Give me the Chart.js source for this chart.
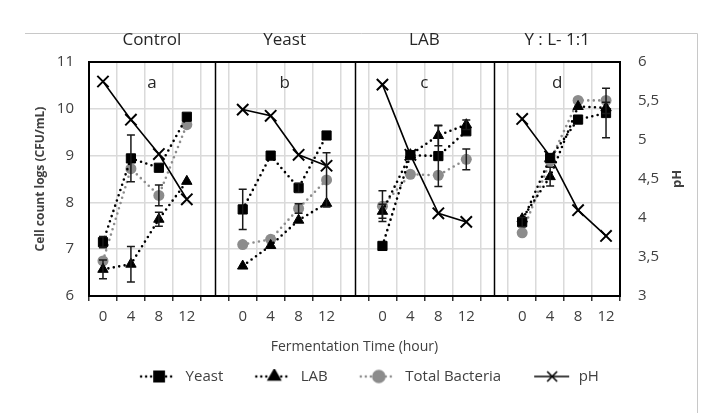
<!DOCTYPE html>
<html>
<head>
<meta charset="utf-8">
<script src="https://cdn.jsdelivr.net/npm/chart.js@4.4.1/dist/chart.umd.min.js"></script>
<style>
    html, body { margin: 0; padding: 0; background: #fff; }
    canvas { display: block; }
</style>
</head>
<body>
<canvas id="fermentChart" width="721" height="413" style="width:721px;height:413px"></canvas>
<script>
// Data
const hours = ["0", "4", "8", "12"];
const treatments = ["Control", "Yeast", "LAB", "Y : L- 1:1"];
const panelLetters = ["a", "b", "c", "d"];

// one row per treatment, values at 0, 4, 8, 12 h
const yeast = [
    [7.15, 8.94, 8.74, 9.83],
    [7.85, 9.0, 8.31, 9.43],
    [7.07, 9.01, 8.99, 9.52],
    [7.58, 8.95, 9.77, 9.91],
];
const lab = [
    [6.57, 6.68, 7.64, 8.45],
    [6.64, 7.08, 7.62, 7.98],
    [7.81, 9.02, 9.43, 9.66],
    [7.65, 8.55, 10.05, 10.02],
];
const totalBacteria = [
    [6.75, 8.72, 8.15, 9.66],
    [7.1, 7.21, 7.87, 8.48],
    [7.92, 8.6, 8.58, 8.92],
    [7.35, 8.88, 10.18, 10.18],
];
const ph = [
    [5.75, 5.26, 4.82, 4.24],
    [5.39, 5.31, 4.81, 4.67],
    [5.71, 4.81, 4.06, 3.95],
    [5.27, 4.79, 4.1, 3.77],
];

// error bars (± value), 0 = none visible
const yeastErr = [
    [0.12, 0.5, 0, 0],
    [0.43, 0, 0.1, 0],
    [0, 0, 0.65, 0],
    [0.1, 0, 0, 0.53],
];
const labErr = [
    [0.2, 0.38, 0.15, 0],
    [0, 0, 0, 0],
    [0.15, 0, 0.22, 0.1],
    [0, 0.2, 0, 0.12],
];
const totalBacteriaErr = [
    [0, 0, 0.22, 0],
    [0, 0, 0.1, 0.58],
    [0.33, 0, 0, 0.22],
    [0, 0, 0, 0],
];

// panels sit side by side on one category axis with an empty slot between them
const withGaps = (groups, gap) => groups.flatMap((g, i) => (i === 0 ? g : [gap, ...g]));
const labels = withGaps(treatments.map(() => hours), "");

const FONT = "'Open Sans', 'Noto Sans', sans-serif";
const TEXT = "#404040";
const GRID = "#dadada";

// legend swatch: dotted (or solid) line with the marker in the middle
function legendSwatch(pointStyle, color, radius, dotted) {
    const c = document.createElement("canvas");
    c.width = 56;
    c.height = 16;
    const g = c.getContext("2d");
    g.strokeStyle = color;
    g.lineWidth = dotted ? 2.6 : 1.6;
    g.lineCap = dotted ? "round" : "butt";
    g.setLineDash(dotted ? [0, 5] : []);
    g.beginPath();
    g.moveTo(19, 8);
    g.lineTo(dotted ? 50 : 54, 8);
    g.stroke();
    g.setLineDash([]);
    Chart.helpers.drawPoint(g, {
        pointStyle: pointStyle,
        radius: radius,
        borderWidth: pointStyle === "crossRot" ? 2 : 1,
        rotation: 0,
    }, 37, 8);
    if (pointStyle !== "crossRot") {
        g.fillStyle = color;
        g.fill();
    }
    return c;
}

const errorBars = {
    id: "errorBars",
    afterDatasetsDraw(chart) {
        const ctx = chart.ctx;
        ctx.save();
        ctx.strokeStyle = "#1a1a1a";
        ctx.lineWidth = 1.5;
        chart.data.datasets.forEach((ds, i) => {
            if (!ds.errors) return;
            const meta = chart.getDatasetMeta(i);
            const yScale = chart.scales[ds.yAxisID];
            ds.data.forEach((v, j) => {
                const e = ds.errors[j];
                if (v === null || !e) return;
                const x = meta.data[j].x;
                const top = yScale.getPixelForValue(v + e);
                const bottom = yScale.getPixelForValue(v - e);
                ctx.beginPath();
                ctx.moveTo(x, top);
                ctx.lineTo(x, bottom);
                ctx.moveTo(x - 4, top);
                ctx.lineTo(x + 4, top);
                ctx.moveTo(x - 4, bottom);
                ctx.lineTo(x + 4, bottom);
                ctx.stroke();
            });
        });
        ctx.restore();
    },
};

const panelDecor = {
    id: "panelDecor",
    beforeDraw(chart) {
        const ctx = chart.ctx;
        ctx.save();
        ctx.strokeStyle = "#c8c8c8";
        ctx.lineWidth = 1;
        ctx.beginPath();
        ctx.moveTo(25, 33.5);
        ctx.lineTo(697.5, 33.5);
        ctx.lineTo(697.5, 413);
        ctx.stroke();
        ctx.restore();
    },
    beforeDatasetsDraw(chart) {
        const { ctx, chartArea } = chart;
        const xs = chart.scales.x;
        ctx.save();
        ctx.strokeStyle = "#000";
        ctx.lineWidth = 1.5;
        [4, 9, 14].forEach((idx) => {
            const x = Math.round(xs.getPixelForValue(idx)) + 0.5;
            ctx.beginPath();
            ctx.moveTo(x, chartArea.top);
            ctx.lineTo(x, chartArea.bottom);
            ctx.stroke();
        });
        ctx.lineWidth = 2;
        ctx.strokeRect(chartArea.left, chartArea.top, chartArea.right - chartArea.left, chartArea.bottom - chartArea.top);
        ctx.restore();
    },
    afterDraw(chart) {
        const { ctx, chartArea } = chart;
        const xs = chart.scales.x;
        ctx.save();
        ctx.textAlign = "center";
        ctx.textBaseline = "middle";
        treatments.forEach((name, k) => {
            const left = k === 0 ? chartArea.left : xs.getPixelForValue(5 * k - 1);
            const right = k === treatments.length - 1 ? chartArea.right : xs.getPixelForValue(5 * k + 4);
            const cx = (left + right) / 2;
            ctx.fillStyle = "#262626";
            ctx.font = "17px " + FONT;
            ctx.fillText(name, cx, 40);
            ctx.fillText(panelLetters[k], cx, 83);
        });
        // secondary axis title, reading bottom to top
        ctx.translate(677, (chartArea.top + chartArea.bottom) / 2);
        ctx.rotate(-Math.PI / 2);
        ctx.font = "bold 13px " + FONT;
        ctx.fillStyle = TEXT;
        ctx.fillText("pH", 0, 0);
        ctx.restore();
    },
};

const dottedLine = {
    borderWidth: 2.6,
    borderDash: [0, 5.5],
    borderCapStyle: "round",
    tension: 0,
    spanGaps: false,
    yAxisID: "y",
};

const ctxCanvas = document.getElementById("fermentChart").getContext("2d");
const fermentChart = new Chart(ctxCanvas, {
    type: "line",
    data: {
        labels: labels,
        datasets: [
            {
                ...dottedLine,
                label: "Yeast",
                data: withGaps(yeast, null),
                errors: withGaps(yeastErr, null),
                borderColor: "#000",
                backgroundColor: "#000",
                pointStyle: "rect",
                pointRadius: 6.5,
                pointBorderWidth: 1,
                legendSwatch: legendSwatch("rect", "#000", 6.5, true),
            },
            {
                ...dottedLine,
                label: "LAB",
                data: withGaps(lab, null),
                errors: withGaps(labErr, null),
                borderColor: "#000",
                backgroundColor: "#000",
                pointStyle: "triangle",
                pointRadius: 6,
                pointBorderWidth: 1,
                legendSwatch: legendSwatch("triangle", "#000", 6, true),
            },
            {
                ...dottedLine,
                label: "Total Bacteria",
                data: withGaps(totalBacteria, null),
                errors: withGaps(totalBacteriaErr, null),
                borderColor: "#8c8c8c",
                backgroundColor: "#8c8c8c",
                pointStyle: "circle",
                pointRadius: 5.5,
                pointBorderWidth: 0,
                legendSwatch: legendSwatch("circle", "#8c8c8c", 5.5, true),
            },
            {
                label: "pH",
                data: withGaps(ph, null),
                yAxisID: "y2",
                borderColor: "#000",
                backgroundColor: "#000",
                borderWidth: 1.6,
                pointStyle: "crossRot",
                pointRadius: 8,
                pointBorderWidth: 2,
                tension: 0,
                spanGaps: false,
                legendSwatch: legendSwatch("crossRot", "#000", 7, false),
            },
        ],
    },
    options: {
        responsive: false,
        animation: false,
        layout: {
            padding: { top: 62, left: 0, right: 0, bottom: 19 },
        },
        plugins: {
            tooltip: { enabled: false },
            legend: {
                display: true,
                position: "bottom",
                labels: {
                    usePointStyle: true,
                    pointStyleWidth: 56,
                    padding: 14,
                    color: TEXT,
                    font: { family: FONT, size: 15 },
                    generateLabels: (chart) => chart.data.datasets.map((ds, i) => ({
                        text: ds.label,
                        pointStyle: ds.legendSwatch,
                        datasetIndex: i,
                        hidden: false,
                        lineWidth: 0,
                        fillStyle: "transparent",
                        strokeStyle: "transparent",
                        fontColor: TEXT,
                    })),
                },
            },
        },
        scales: {
            x: {
                type: "category",
                offset: true,
                grid: {
                    offset: true,
                    color: GRID,
                    lineWidth: 1.5,
                    drawTicks: true,
                    tickLength: 5,
                    tickColor: "#333",
                    tickWidth: 1.5,
                },
                border: { display: false },
                ticks: {
                    autoSkip: false,
                    maxRotation: 0,
                    padding: 7,
                    color: TEXT,
                    font: { family: FONT, size: 15 },
                },
                title: {
                    display: true,
                    text: "Fermentation Time (hour)",
                    color: TEXT,
                    font: { family: FONT, size: 14 },
                    padding: { top: 2, bottom: 0 },
                },
                afterFit: (scale) => { scale.height = 59; },
            },
            y: {
                position: "left",
                min: 6,
                max: 11,
                grid: { color: GRID, lineWidth: 1.5, drawTicks: false },
                border: { display: false },
                ticks: {
                    stepSize: 1,
                    padding: 15,
                    color: TEXT,
                    font: { family: FONT, size: 15 },
                },
                title: {
                    display: true,
                    text: "Cell count logs (CFU/mL)",
                    color: TEXT,
                    font: { family: FONT, size: 12, weight: "bold" },
                    padding: { top: 33, bottom: 0 },
                },
                afterFit: (scale) => { scale.width = 89; },
            },
            y2: {
                position: "right",
                min: 3,
                max: 6,
                grid: { display: false, drawTicks: false },
                border: { display: false },
                ticks: {
                    stepSize: 0.5,
                    padding: 18,
                    color: TEXT,
                    font: { family: FONT, size: 15 },
                    callback: (v) => String(v).replace(".", ","),
                },
                afterFit: (scale) => { scale.width = 101; },
            },
        },
    },
    plugins: [panelDecor, errorBars],
});
</script>
</body>
</html>
